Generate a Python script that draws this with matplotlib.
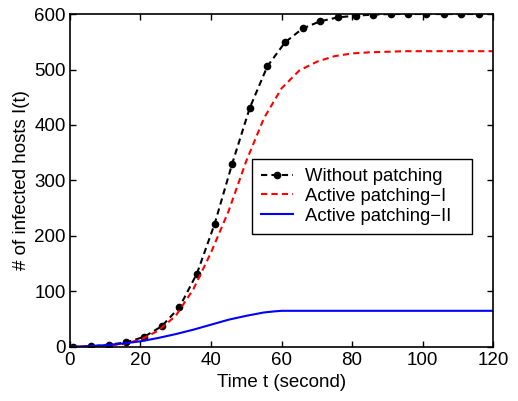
import numpy as np
import matplotlib
matplotlib.use("Agg")
import matplotlib.pyplot as plt

plt.rcParams['font.family'] = ['Liberation Sans', 'DejaVu Sans']

# without patching (markers every 5 s)
t_black = [1, 6, 11, 16, 21, 26, 31, 36, 41, 46, 51, 56, 61, 66, 71, 76,
           81, 86, 91, 96, 101, 106, 111, 116]
i_black = [0, 1, 4, 8, 18, 37, 71, 132, 221, 330, 431, 506, 549, 574, 587, 594,
           597, 599, 600, 600, 600, 600, 600, 600]

# active patching I
t_red = [0, 5, 10, 15, 20, 25, 30, 35, 40, 45, 50, 55, 60, 65, 70, 75, 80,
         85, 90, 95, 100, 105, 110, 115, 120]
i_red = [0, 1, 2, 5, 13, 29, 56, 104, 170, 245, 335, 412, 466, 498, 514, 524, 529,
         531, 532, 533, 533, 533, 533, 533, 533]

# active patching II
t_blue = [0, 5, 10, 15, 20, 25, 30, 35, 40, 45, 50, 55, 58, 60, 65, 70, 80, 90,
          100, 110, 120]
i_blue = [0, 1, 3, 6, 10, 16, 23, 31, 40, 49, 56, 62, 64, 65, 65, 65, 65, 65,
          65, 65, 65]

fig = plt.figure(figsize=(5.18, 4.01), dpi=100)
ax = fig.add_axes([0.135, 0.135, 0.817, 0.83])

ax.plot(t_black, i_black, color='k', ls=(0, (3, 2)), lw=1.5, marker='o',
        ms=4.5, label='Without patching')
ax.plot(t_red, i_red, color='r', ls=(0, (3, 2)), lw=1.5,
        label='Active patching\u2212I')
ax.plot(t_blue, i_blue, color='b', lw=1.5, label='Active patching\u2212II')

ax.set_xlim(0, 120)
ax.set_ylim(0, 600)
ax.set_xticks(range(0, 121, 20))
ax.set_yticks(range(0, 601, 100))
ax.tick_params(direction='in', top=True, right=True, labelsize=13.5,
               length=4, width=1)
ax.tick_params(axis='x', pad=4)
ax.tick_params(axis='y', pad=3)
for s in ax.spines.values():
    s.set_linewidth(1.2)

ax.set_xlabel('Time t (second)', fontsize=13.5, labelpad=3)
ax.set_ylabel('# of infected hosts I(t)', fontsize=13.5, labelpad=3)

leg = ax.legend(loc='upper left', bbox_to_anchor=(0.430, 0, 0.520, 0.565),
                mode='expand', borderaxespad=0,
                fontsize=13.3, fancybox=False, framealpha=1, handlelength=1.7,
                labelspacing=0.15, borderpad=0.5, handletextpad=0.65)
leg.get_frame().set_edgecolor('k')
leg.get_frame().set_linewidth(1.0)

fig.savefig('out.png', dpi=100)
